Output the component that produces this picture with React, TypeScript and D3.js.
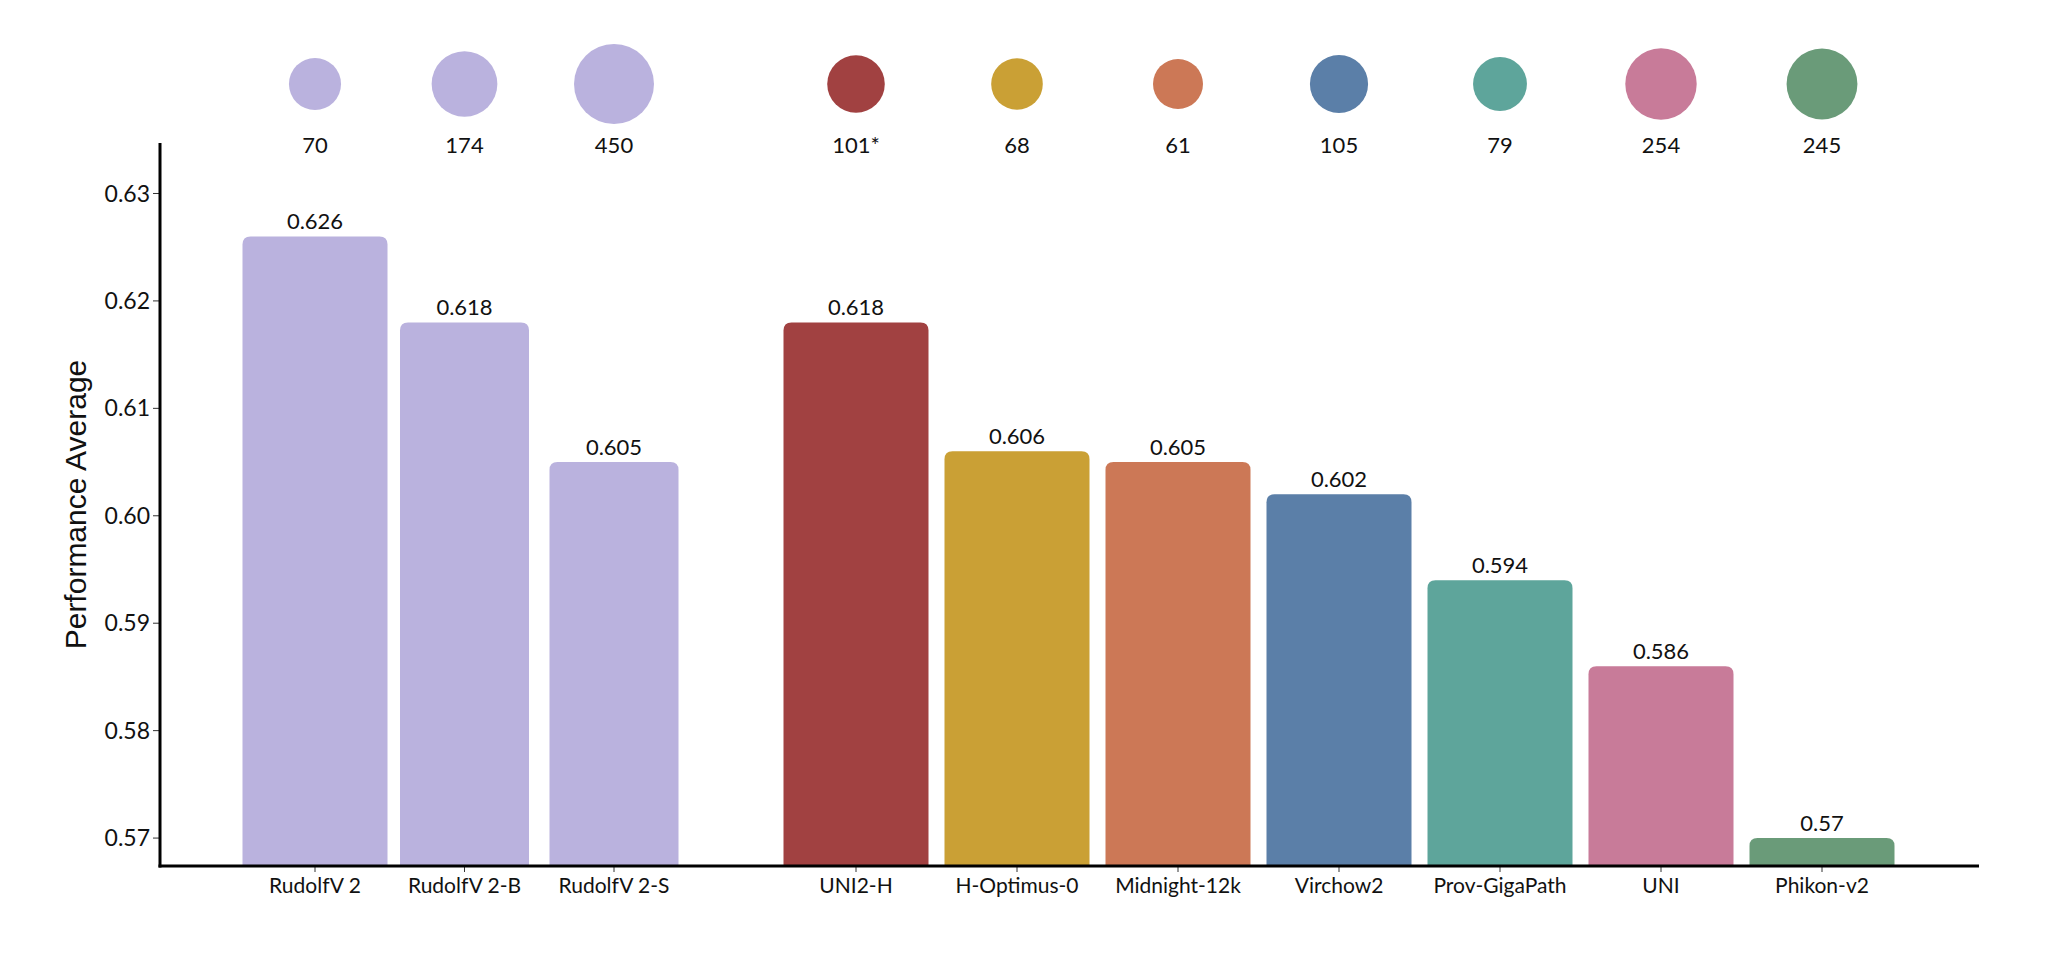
import * as d3 from 'd3';

const groupA = ['RudolfV 2', 'RudolfV 2-B', 'RudolfV 2-S'];
const groupB = ['UNI2-H', 'H-Optimus-0', 'Midnight-12k', 'Virchow2', 'Prov-GigaPath', 'UNI', 'Phikon-v2'];
const scores = [0.626, 0.618, 0.605, 0.618, 0.606, 0.605, 0.602, 0.594, 0.586, 0.57];
const sizes = [70, 174, 450, 101, 68, 61, 105, 79, 254, 245];
const sizeLabels = ['70', '174', '450', '101*', '68', '61', '105', '79', '254', '245'];
const colors = ['#bab2de', '#bab2de', '#bab2de', '#a14141', '#caa035', '#cc7856', '#5b7fa8', '#5ea59b', '#c87b99', '#6a9b79'];
const yTicks = [0.57, 0.58, 0.59, 0.6, 0.61, 0.62, 0.63];

const W = 2048;
const H = 958;
const left = 160;
const right = 1979;
const top = 143;
const bottom = 866;
const numFont = 'Lato, "Open Sans", sans-serif';

function topRounded(x: number, y: number, w: number, h: number, r: number) {
  const rr = Math.min(r, h, w / 2);
  return `M${x},${y + h}V${y + rr}Q${x},${y} ${x + rr},${y}H${x + w - rr}Q${x + w},${y} ${x + w},${y + rr}V${y + h}Z`;
}

export default function App() {
  const names = [...groupA, ...groupB];
  const xA = d3.scalePoint<string>().domain(groupA).range([315, 614]);
  const xB = d3.scalePoint<string>().domain(groupB).range([856, 1822]);
  const xc = (name: string) => (groupA.includes(name) ? xA(name) : xB(name)) ?? 0;
  const y = d3.scaleLinear().domain([0.5674, 0.6347]).range([bottom, top]);
  const r = d3.scaleLog().domain([61, 450]).range([25, 40]);

  return (
    <svg width={W} height={H} style={{ position: 'absolute', left: 0, top: 0, background: '#fff' }}>
      {/* bubbles */}
      {names.map((n, i) => (
        <g key={`b-${n}`}>
          <circle cx={xc(n)} cy={84} r={r(sizes[i])} fill={colors[i]} />
          <text x={xc(n)} y={153} textAnchor="middle" fontFamily={numFont} fontSize={22} fill="#111">
            {sizeLabels[i]}
          </text>
        </g>
      ))}

      {/* bars */}
      {names.map((n, i) => {
        const bw = i === 0 || i >= groupA.length ? 145 : 129;
        const yt = y(scores[i]);
        return (
          <g key={`bar-${n}`}>
            <path d={topRounded(xc(n) - bw / 2, yt, bw, bottom - yt, 8)} fill={colors[i]} />
            <text x={xc(n)} y={yt - 7} textAnchor="middle" fontFamily={numFont} fontSize={22} fill="#111">
              {String(scores[i])}
            </text>
            <line x1={xc(n)} x2={xc(n)} y1={bottom} y2={bottom + 6} stroke="#333" strokeWidth={1} />
            <text x={xc(n)} y={893} textAnchor="middle" fontFamily={numFont} fontSize={21} fill="#111">
              {n}
            </text>
          </g>
        );
      })}

      {/* y axis */}
      {yTicks.map((t) => (
        <g key={`t-${t}`}>
          <line x1={left - 7} x2={left} y1={y(t)} y2={y(t)} stroke="#333" strokeWidth={1} />
          <text x={left - 10} y={y(t)} dy="0.35em" textAnchor="end" fontFamily={numFont} fontSize={23} fill="#111">
            {d3.format('.2f')(t)}
          </text>
        </g>
      ))}
      <line x1={left} x2={left} y1={top} y2={bottom + 1.5} stroke="#000" strokeWidth={3} />
      <line x1={left - 1.5} x2={right} y1={bottom} y2={bottom} stroke="#000" strokeWidth={3} />
      <text
        transform={`translate(75,${(top + bottom) / 2}) rotate(-90)`}
        textAnchor="middle"
        dy="0.35em"
        fontFamily='"Liberation Sans", Arial, sans-serif'
        fontSize={30}
        fill="#111"
      >
        Performance Average
      </text>
    </svg>
  );
}
